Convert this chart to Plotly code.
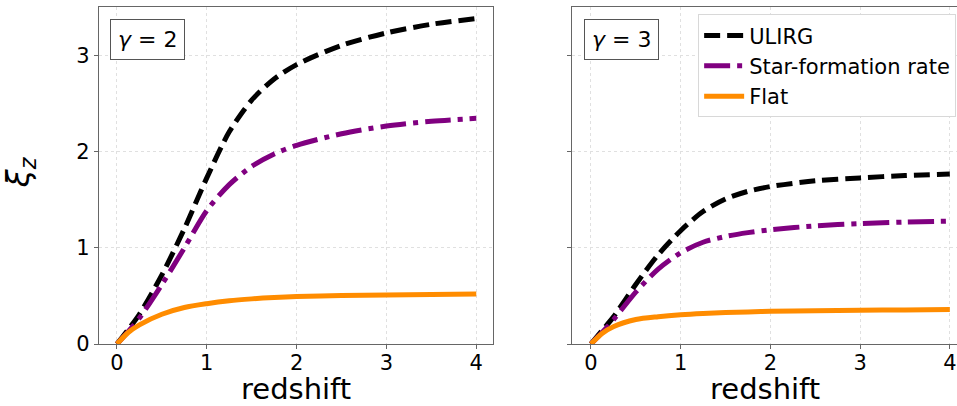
import plotly.graph_objects as go

# redshift sample points
z = [0, 0.125, 0.25, 0.5, 0.75, 1, 1.25, 1.5, 1.75, 2, 2.5, 3, 3.5, 4]

# gamma = 2
ulirg_g2 = [0, 0.15, 0.31, 0.72, 1.20, 1.73, 2.21, 2.54, 2.76, 2.91, 3.11, 3.24, 3.33, 3.39]
sfr_g2 = [0, 0.13, 0.27, 0.62, 1.00, 1.39, 1.66, 1.85, 1.98, 2.07, 2.19, 2.27, 2.32, 2.35]
flat_g2 = [0, 0.12, 0.20, 0.31, 0.38, 0.42, 0.45, 0.47, 0.485, 0.495, 0.505, 0.51, 0.515, 0.52]

# gamma = 3
ulirg_g3 = [0, 0.14, 0.28, 0.62, 0.93, 1.18, 1.38, 1.51, 1.59, 1.64, 1.70, 1.73, 1.755, 1.77]
sfr_g3 = [0, 0.12, 0.25, 0.54, 0.78, 0.95, 1.06, 1.12, 1.16, 1.19, 1.23, 1.255, 1.27, 1.28]
flat_g3 = [0, 0.11, 0.18, 0.255, 0.285, 0.305, 0.318, 0.327, 0.334, 0.34, 0.346, 0.351, 0.355, 0.36]

series_names = ["ULIRG", "Star-formation rate", "Flat"]
colors = ["black", "#800080", "#FF8C00"]
dashes = ["16px,7px", "26px,7px,5px,7px", "solid"]
panel_labels = ["<i>γ</i> = 2", "<i>γ</i> = 3"]
x_ticks = [0, 1, 2, 3, 4]
y_ticks = [0, 1, 2, 3]

FONT = "DejaVu Sans"
LW = 5

fig = go.Figure()

panels = [(ulirg_g2, sfr_g2, flat_g2), (ulirg_g3, sfr_g3, flat_g3)]
for p, data in enumerate(panels):
    xa = "x" if p == 0 else "x2"
    ya = "y" if p == 0 else "y2"
    for k, ys in enumerate(data):
        fig.add_trace(go.Scatter(
            x=z, y=ys, mode="lines", name=series_names[k],
            line=dict(color=colors[k], width=LW, dash=dashes[k], shape="spline", smoothing=0.8),
            xaxis=xa, yaxis=ya, showlegend=(p == 1),
        ))

axis_common = dict(
    showline=True, linecolor="#666666", linewidth=1.2, mirror=True,
    showgrid=True, gridcolor="#e0e0e0", griddash="dot", gridwidth=1,
    ticks="outside", ticklen=4, tickcolor="#666666",
    tickfont=dict(family=FONT, size=21, color="black"),
    zeroline=False,
)

fig.update_layout(
    width=957, height=406,
    margin=dict(l=99, r=0, t=7, b=62),
    plot_bgcolor="white", paper_bgcolor="white",
    font=dict(family=FONT, color="black"),
    xaxis=dict(domain=[0, 0.4596], range=[-0.2, 4.19], tickvals=x_ticks,
               ticklabelstandoff=-4, **axis_common),
    xaxis2=dict(domain=[0.5513, 1.0], range=[-0.21, 4.08], tickvals=x_ticks, anchor="y2",
                ticklabelstandoff=-4, **axis_common),
    yaxis=dict(range=[0, 3.51], tickvals=y_ticks, **axis_common),
    yaxis2=dict(range=[0, 3.51], tickvals=y_ticks, anchor="x2", matches="y",
                showticklabels=False, **axis_common),
    legend=dict(
        x=0.999, y=0.978, xanchor="right", yanchor="top",
        bgcolor="white", bordercolor="#d8d8d8", borderwidth=1,
        font=dict(family=FONT, size=21, color="black"),
        itemwidth=40,
    ),
)

# panel labels in boxed insets
for p, label in enumerate(panel_labels):
    suffix = "" if p == 0 else "2"
    fig.add_annotation(
        text=label, xref=f"x{suffix} domain", yref=f"y{suffix} domain",
        x=0.124 if p == 0 else 0.1286, y=0.903, xanchor="center", yanchor="middle",
        showarrow=False, font=dict(family=FONT, size=22, color="black"),
        bordercolor="#555555", borderwidth=1, borderpad=7, bgcolor="white",
    )

# x-axis titles
for p in range(2):
    suffix = "" if p == 0 else "2"
    fig.add_annotation(
        text="redshift", xref=f"x{suffix} domain", yref="paper",
        x=0.5, y=-0.135, xanchor="center", yanchor="middle", showarrow=False,
        font=dict(family=FONT, size=29, color="black"),
    )

# shared y-axis title
fig.add_annotation(
    text="<i>ξ</i><sub><i>z</i></sub>", xref="paper", yref="paper",
    x=-0.092, y=0.51, xanchor="center", yanchor="middle", showarrow=False,
    textangle=-90, font=dict(family=FONT, size=32, color="black"),
)

fig.write_html("out.html")
